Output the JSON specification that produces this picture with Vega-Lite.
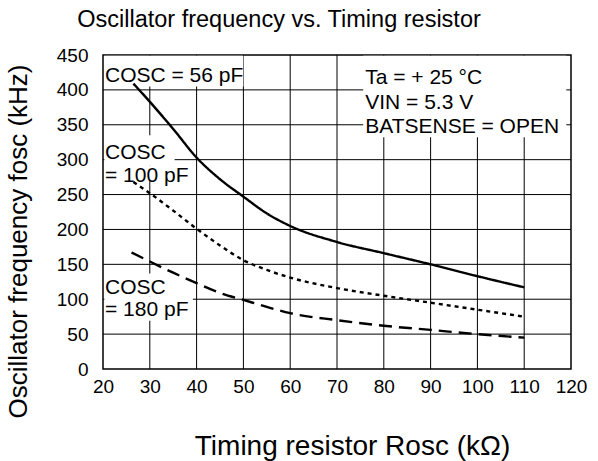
{
  "$schema": "https://vega.github.io/schema/vega-lite/v6.json",
  "width": 468,
  "height": 314,
  "autosize": "none",
  "padding": {"left": 103, "top": 55, "right": 27, "bottom": 92},
  "background": "white",
  "config": {
    "font": "Liberation Sans",
    "view": {"stroke": "black", "strokeWidth": 1.5},
    "axis": {
      "grid": false,
      "domain": false, "ticks": false, "tickSize": 0, "labelOverlap": false, "labelFlush": false,
      "labelFont": "Liberation Sans", "labelFontSize": 19, "labelColor": "black",
      "titleFont": "Liberation Sans", "titleFontSize": 26, "titleFontWeight": "normal", "titleColor": "black"
    }
  },
  "title": {
    "text": "Oscillator frequency vs. Timing resistor",
    "fontSize": 23.5, "fontWeight": "normal", "color": "black",
    "anchor": "middle", "dx": -58, "offset": -4, "baseline": "alphabetic", "font": "Liberation Sans"
  },
  "datasets": {
    "curves": [
      {"r": 26.5, "f": 409, "c": "56 pF"},
      {"r": 30, "f": 383, "c": "56 pF"},
      {"r": 35, "f": 344, "c": "56 pF"},
      {"r": 40, "f": 303, "c": "56 pF"},
      {"r": 45, "f": 272, "c": "56 pF"},
      {"r": 50, "f": 247, "c": "56 pF"},
      {"r": 55, "f": 223, "c": "56 pF"},
      {"r": 60, "f": 205, "c": "56 pF"},
      {"r": 70, "f": 182, "c": "56 pF"},
      {"r": 80, "f": 166, "c": "56 pF"},
      {"r": 90, "f": 150, "c": "56 pF"},
      {"r": 100, "f": 133, "c": "56 pF"},
      {"r": 110, "f": 117, "c": "56 pF"},
      {"r": 26.5, "f": 268, "c": "100 pF"},
      {"r": 30, "f": 252, "c": "100 pF"},
      {"r": 35, "f": 227, "c": "100 pF"},
      {"r": 40, "f": 201, "c": "100 pF"},
      {"r": 45, "f": 177, "c": "100 pF"},
      {"r": 50, "f": 156, "c": "100 pF"},
      {"r": 55, "f": 142, "c": "100 pF"},
      {"r": 60, "f": 131, "c": "100 pF"},
      {"r": 70, "f": 116, "c": "100 pF"},
      {"r": 80, "f": 105, "c": "100 pF"},
      {"r": 90, "f": 95, "c": "100 pF"},
      {"r": 100, "f": 85, "c": "100 pF"},
      {"r": 110, "f": 75, "c": "100 pF"},
      {"r": 26.1, "f": 167, "c": "180 pF"},
      {"r": 30, "f": 154, "c": "180 pF"},
      {"r": 35, "f": 138, "c": "180 pF"},
      {"r": 40, "f": 123, "c": "180 pF"},
      {"r": 45, "f": 109, "c": "180 pF"},
      {"r": 50, "f": 99, "c": "180 pF"},
      {"r": 55, "f": 89, "c": "180 pF"},
      {"r": 60, "f": 80, "c": "180 pF"},
      {"r": 70, "f": 70, "c": "180 pF"},
      {"r": 80, "f": 62, "c": "180 pF"},
      {"r": 90, "f": 56, "c": "180 pF"},
      {"r": 100, "f": 50, "c": "180 pF"},
      {"r": 110, "f": 45, "c": "180 pF"}
    ],
    "gridx": [{"gx": 30}, {"gx": 40}, {"gx": 50}, {"gx": 60}, {"gx": 70}, {"gx": 80}, {"gx": 90}, {"gx": 100}, {"gx": 110}],
    "gridy": [{"gy": 50}, {"gy": 100}, {"gy": 150}, {"gy": 200}, {"gy": 250}, {"gy": 300}, {"gy": 350}, {"gy": 400}],
    "boxes": [
      {"bx": 20.3, "bx2": 50, "by": 449, "by2": 405},
      {"bx": 75.6, "bx2": 119, "by": 449, "by2": 332},
      {"bx": 20.3, "bx2": 35.3, "by": 335, "by2": 292},
      {"bx": 20.3, "bx2": 38.6, "by": 292, "by2": 271},
      {"bx": 20.3, "bx2": 33.6, "by": 137, "by2": 104},
      {"bx": 20.3, "bx2": 39.2, "by": 104, "by2": 69}
    ],
    "labels": [
      {"t": "COSC = 56 pF", "lx": 20, "ly": 411},
      {"t": "Ta = + 25 °C", "lx": 75.6, "ly": 409},
      {"t": "VIN = 5.3 V", "lx": 75.6, "ly": 372},
      {"t": "BATSENSE = OPEN", "lx": 75.6, "ly": 338},
      {"t": "COSC", "lx": 20, "ly": 301},
      {"t": "= 100 pF", "lx": 20, "ly": 268},
      {"t": "COSC", "lx": 20, "ly": 107},
      {"t": "= 180 pF", "lx": 20, "ly": 76}
    ]
  },
  "layer": [
    {
      "data": {"name": "gridx"},
      "mark": {"type": "rule", "color": "black", "strokeWidth": 1},
      "encoding": {
        "x": {"field": "gx", "type": "quantitative", "scale": {"domain": [20, 120], "nice": false},
              "axis": {"values": [20, 30, 40, 50, 60, 70, 80, 90, 100, 110, 120], "title": "Timing resistor Rosc (kΩ)", "titleFontSize": 28, "labelPadding": 8, "titlePadding": 36, "titleX": 249}}
      }
    },
    {
      "data": {"name": "gridy"},
      "mark": {"type": "rule", "color": "black", "strokeWidth": 1},
      "encoding": {
        "y": {"field": "gy", "type": "quantitative", "scale": {"domain": [0, 450], "nice": false},
              "axis": {"values": [0, 50, 100, 150, 200, 250, 300, 350, 400, 450], "title": "Oscillator frequency fosc (kHz)", "labelPadding": 15, "titlePadding": 25, "titleY": 186}}
      }
    },
    {
      "data": {"name": "boxes"},
      "mark": {"type": "rect", "fill": "white", "stroke": null},
      "encoding": {
        "x": {"field": "bx", "type": "quantitative", "scale": {"domain": [20, 120], "nice": false},
              "axis": {"values": [20, 30, 40, 50, 60, 70, 80, 90, 100, 110, 120], "title": "Timing resistor Rosc (kΩ)", "titleFontSize": 28, "labelPadding": 8, "titlePadding": 36, "titleX": 249}},
        "x2": {"field": "bx2"},
        "y": {"field": "by", "type": "quantitative", "scale": {"domain": [0, 450], "nice": false},
              "axis": {"values": [0, 50, 100, 150, 200, 250, 300, 350, 400, 450], "title": "Oscillator frequency fosc (kHz)", "labelPadding": 15, "titlePadding": 25, "titleY": 186}},
        "y2": {"field": "by2"}
      }
    },
    {
      "data": {"name": "curves"},
      "mark": {"type": "line", "color": "black", "strokeWidth": 2.4, "interpolate": "monotone"},
      "encoding": {
        "x": {"field": "r", "type": "quantitative", "scale": {"domain": [20, 120], "nice": false},
              "axis": {"values": [20, 30, 40, 50, 60, 70, 80, 90, 100, 110, 120], "title": "Timing resistor Rosc (kΩ)", "titleFontSize": 28, "labelPadding": 8, "titlePadding": 36, "titleX": 249}},
        "y": {"field": "f", "type": "quantitative", "scale": {"domain": [0, 450], "nice": false},
              "axis": {"values": [0, 50, 100, 150, 200, 250, 300, 350, 400, 450], "title": "Oscillator frequency fosc (kHz)", "labelPadding": 15, "titlePadding": 25, "titleY": 186}},
        "detail": {"field": "c"},
        "strokeDash": {"field": "c", "type": "nominal", "scale": {"domain": ["56 pF", "100 pF", "180 pF"], "range": [[1, 0], [4, 4], [13, 7]]}, "legend": null}
      }
    },
    {
      "data": {"name": "labels"},
      "mark": {"type": "text", "align": "left", "baseline": "alphabetic", "fontSize": 21, "dx": 2, "color": "black", "font": "Liberation Sans"},
      "encoding": {
        "x": {"field": "lx", "type": "quantitative", "scale": {"domain": [20, 120], "nice": false},
              "axis": {"values": [20, 30, 40, 50, 60, 70, 80, 90, 100, 110, 120], "title": "Timing resistor Rosc (kΩ)", "titleFontSize": 28, "labelPadding": 8, "titlePadding": 36, "titleX": 249}},
        "y": {"field": "ly", "type": "quantitative", "scale": {"domain": [0, 450], "nice": false},
              "axis": {"values": [0, 50, 100, 150, 200, 250, 300, 350, 400, 450], "title": "Oscillator frequency fosc (kHz)", "labelPadding": 15, "titlePadding": 25, "titleY": 186}},
        "text": {"field": "t"}
      }
    }
  ]
}
